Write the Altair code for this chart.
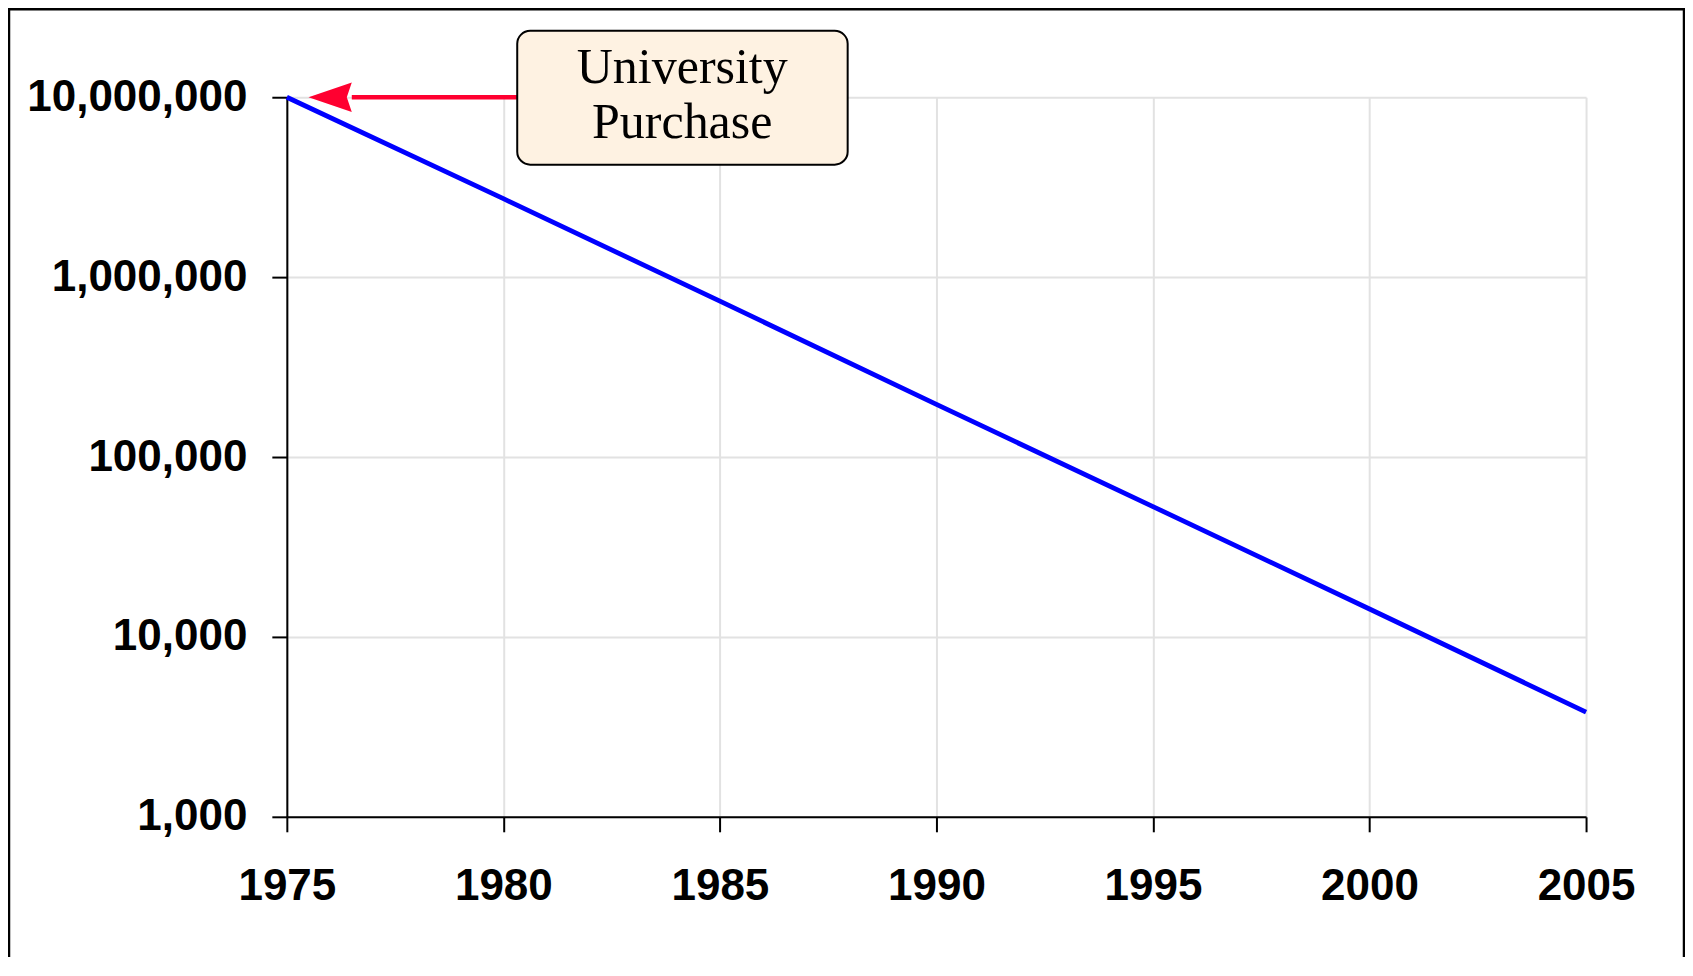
import altair as alt
import pandas as pd

# ---- data ----
years = [1975, 1980, 1985, 1990, 1995, 2000, 2005]
costs = [10000000, 2730000, 735000, 196000, 53000, 14300, 3820]
x_ticks = [1975, 1980, 1985, 1990, 1995, 2000, 2005]
y_ticks = [1000, 10000, 100000, 1000000, 10000000]
note_text = "University\nPurchase"

# annotation anchors (data units)
note_year_left, note_year_right = 1980.32, 1987.95
note_val_top, note_val_bottom = 2.34e7, 4.22e6
note_year_center = 1984.13
arrow_val = 10000000
arrow_head_year = 1976.0
arrow_tail_year = 1976.5

line_df = pd.DataFrame({"year": years, "cost": costs})

xs = alt.Scale(domain=[1975, 2005], nice=False, zero=False)
ys = alt.Scale(type="log", domain=[1000, 10000000], nice=False)

x_axis = alt.Axis(values=x_ticks, format="d", title=None,
                  labelFont="Liberation Sans", labelFontWeight="bold",
                  labelFontSize=44, labelColor="black", labelPadding=33,
                  labelFlush=False, labelOverlap=False, labelLimit=400,
                  tickSize=15, tickColor="black", tickWidth=2,
                  domainColor="black", domainWidth=2,
                  gridColor="#e2e2e2", gridWidth=2)
y_axis = alt.Axis(values=y_ticks, format=",d", title=None,
                  labelFont="Liberation Sans", labelFontWeight="bold",
                  labelFontSize=44, labelColor="black", labelPadding=25,
                  labelOverlap=False, labelLimit=400,
                  tickSize=15, tickColor="black", tickWidth=2,
                  domainColor="black", domainWidth=2,
                  gridColor="#e2e2e2", gridWidth=2)


def X(field):
    return alt.X(field, scale=xs, axis=x_axis)


def Y(field):
    return alt.Y(field, scale=ys, axis=y_axis)


line = alt.Chart(line_df).mark_line(color="#0000ff", strokeWidth=4.8).encode(
    x=X("year:Q"),
    y=Y("cost:Q"),
)

one = pd.DataFrame({"k": [0]})

arrow_df = pd.DataFrame({"x1": [arrow_tail_year], "x2": [note_year_left], "y": [arrow_val]})
arrow_line = alt.Chart(arrow_df).mark_rule(color="#ff0030", strokeWidth=4.5).encode(
    x=X("x1:Q"), x2="x2:Q", y=Y("y:Q"),
)

head_df = pd.DataFrame({"x": [arrow_head_year], "y": [arrow_val]})
arrow_head = alt.Chart(head_df).mark_point(
    shape="M -1 0 L 1 -0.68 L 0.77 0 L 1 0.68 Z",
    size=1875, filled=True, color="#ff0030", opacity=1, strokeWidth=0,
).encode(x=X("x:Q"), y=Y("y:Q"))

box_df = pd.DataFrame({"x1": [note_year_left], "x2": [note_year_right],
                       "y1": [note_val_top], "y2": [note_val_bottom]})
box = alt.Chart(box_df).mark_rect(
    fill="#fef2e2", stroke="black", strokeWidth=2, cornerRadius=13
).encode(x=X("x1:Q"), x2="x2:Q", y=Y("y1:Q"), y2="y2:Q")

text_df = pd.DataFrame({"x": [note_year_center], "y": [arrow_val], "t": [note_text]})
text = alt.Chart(text_df).mark_text(
    font="Liberation Serif", fontSize=50, lineHeight=55, color="black",
    baseline="middle", align="center", lineBreak="\n", dy=-29,
).encode(x=X("x:Q"), y=Y("y:Q"), text="t:N")

frame = alt.Chart(one).mark_rect(fill="transparent", stroke="black", strokeWidth=2.5).encode(
    x=alt.value(-278), x2=alt.value(1398), y=alt.value(-88), y2=alt.value(900),
)

chart = alt.layer(line, arrow_line, arrow_head, box, text, frame).properties(
    width=1300, height=720,
    padding={"left": 279, "top": 89, "right": 99, "bottom": 140},
    autosize=alt.AutoSizeParams(type="none"),
    background="white",
).configure_view(stroke=None)

chart.save("out.html", embed_options={"renderer": "svg", "actions": False})
